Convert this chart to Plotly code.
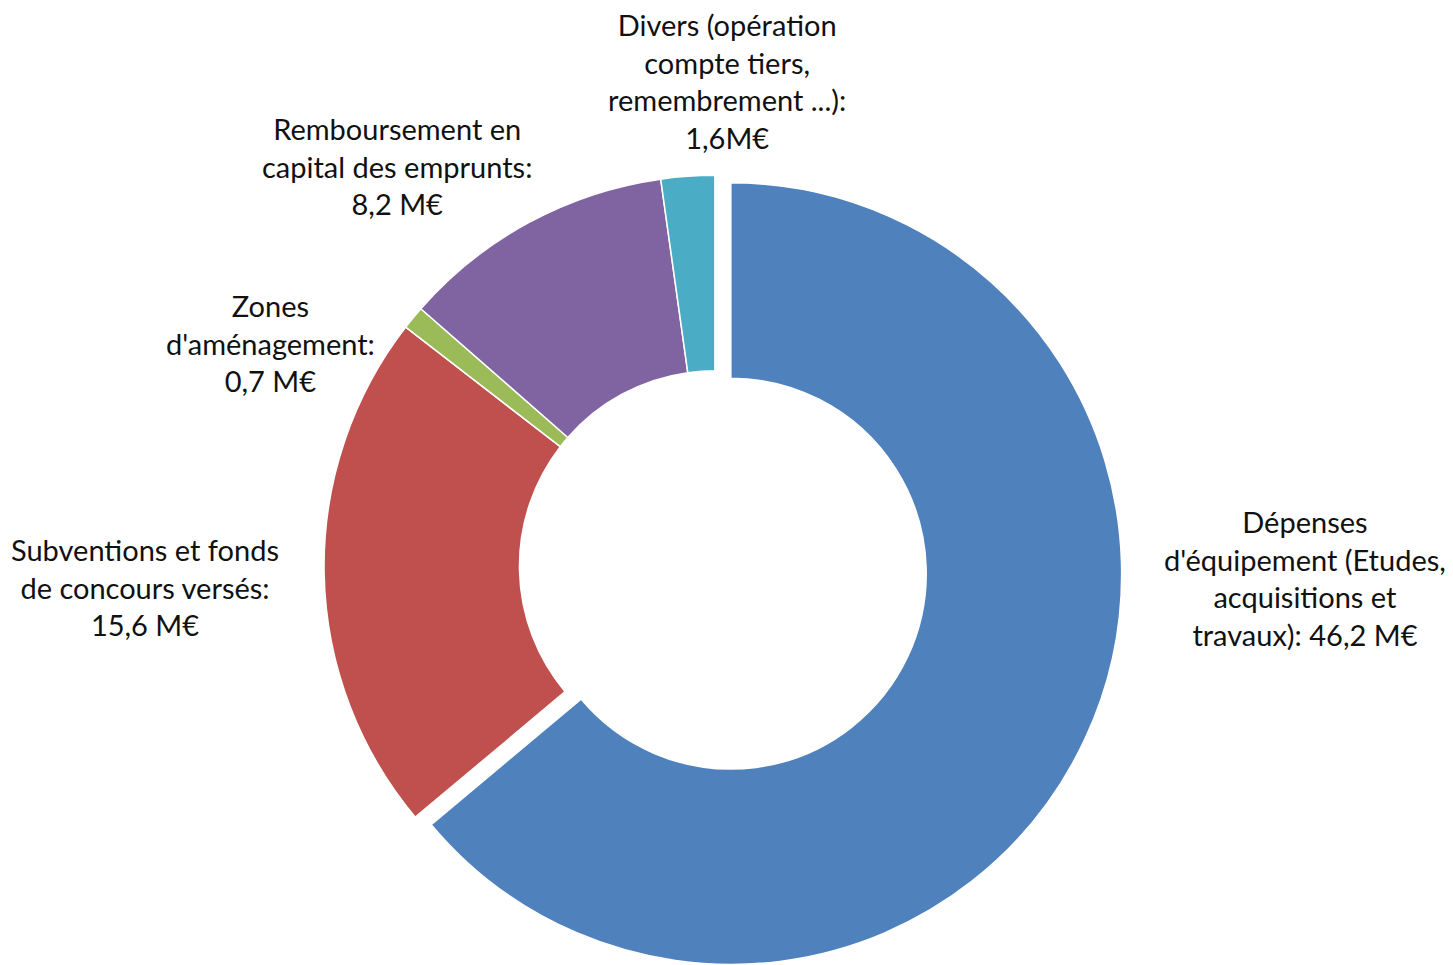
import plotly.graph_objects as go

categories = [
    "Dépenses d'équipement (Etudes, acquisitions et travaux)",
    "Subventions et fonds de concours versés",
    "Zones d'aménagement",
    "Remboursement en capital des emprunts",
    "Divers (opération compte tiers, remembrement ...)",
]
values = [46.2, 15.6, 0.7, 8.2, 1.6]
colors = ["#4F81BD", "#C0504D", "#9BBB59", "#8064A2", "#4BACC6"]
pulls = [0.045, 0, 0, 0, 0]
label_texts = [
    "Dépenses<br>d'équipement (Etudes,<br>acquisitions et<br>travaux): 46,2 M€",
    "Subventions et fonds<br>de concours versés:<br>15,6 M€",
    "Zones<br>d'aménagement:<br>0,7 M€",
    "Remboursement en<br>capital des emprunts:<br>8,2 M€",
    "Divers (opération<br>compte tiers,<br>remembrement ...):<br>1,6M€",
]
# label block centres in pixels (x, y from top)
label_pos = [(1305, 578), (145, 587), (270, 343), (397, 166), (727, 81)]

W, H = 1453, 980

fig = go.Figure(go.Pie(
    labels=categories,
    values=values,
    hole=0.5,
    sort=False,
    direction="clockwise",
    rotation=0,
    pull=pulls,
    marker=dict(colors=colors, line=dict(color="white", width=1.5)),
    textinfo="none",
    hoverinfo="label+value",
    domain=dict(x=[0.002, 0.982], y=[0.0055, 0.839]),
    showlegend=False,
))

for txt, (px, py) in zip(label_texts, label_pos):
    fig.add_annotation(
        x=px / W, y=1 - py / H, xref="paper", yref="paper",
        text=txt, showarrow=False, xanchor="center", yanchor="middle",
        align="center", font=dict(family="Lato", size=29, color="#111111"),
    )

fig.update_layout(
    width=W, height=H,
    margin=dict(l=0, r=0, t=0, b=0),
    paper_bgcolor="white", plot_bgcolor="white",
)

fig.write_html(
    "out.html",
    config={"displayModeBar": False},
    post_script="document.body.style.margin='0';document.body.style.overflow='hidden';document.documentElement.style.overflow='hidden';",
)
